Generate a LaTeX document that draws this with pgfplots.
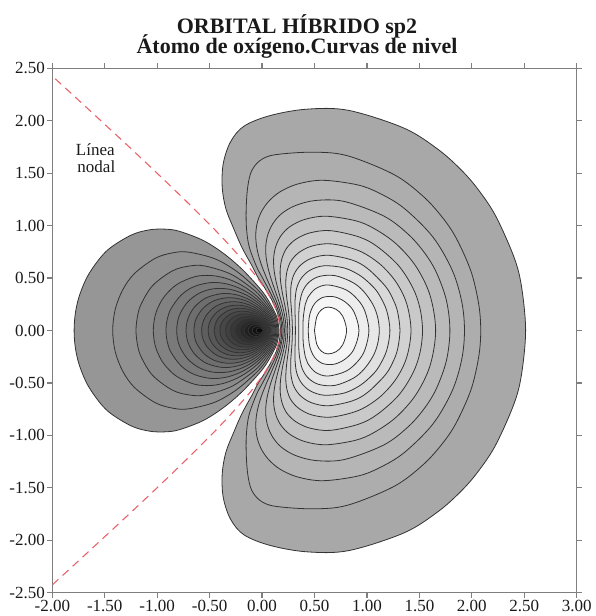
\documentclass[border=0pt]{standalone}
\usepackage{fontspec}
\setmainfont{Liberation Serif}
\usepackage{pgfplots}
\pgfplotsset{compat=1.18}
\definecolor{axgray}{HTML}{7F7F7F}
\definecolor{nodalred}{HTML}{E8646A}
\definecolor{txt}{HTML}{1A1A1A}
\pgfplotsset{rc/.style={smooth, tension=0.55, draw=black!80, line width=0.4pt, mark=none}}
\begin{document}
\begin{tikzpicture}
\useasboundingbox (-26.15pt,-11.65pt) rectangle (271.35pt,296.35pt);
\begin{axis}[
  at={(0,0)}, anchor=south west,
  scale only axis, width=262.2pt, height=262.2pt,
  xmin=-2, xmax=3, ymin=-2.5, ymax=2.5,
  xtick={-2,-1.5,-1,-0.5,0,0.5,1,1.5,2,2.5,3},
  xticklabels={-2.00,-1.50,-1.00,-0.50,0.00,0.50,1.00,1.50,2.00,2.50,3.00},
  ytick={-2.5,-2,-1.5,-1,-0.5,0,0.5,1,1.5,2,2.5},
  yticklabels={-2.50,-2.00,-1.50,-1.00,-0.50,0.00,0.50,1.00,1.50,2.00,2.50},
  tick label style={font=\fontsize{8.5}{10}\selectfont, text=txt},
  xticklabel style={inner sep=1pt},
  yticklabel style={inner sep=1pt},
  axis line style={axgray, line width=0.6pt},
  tick style={axgray, line width=0.6pt},
  major tick length=2.5pt, tick align=outside,
  xtick pos=both, ytick pos=both,
  minor tick num=0,
  clip mode=individual,
]
% ---------- right lobe ----------
\addplot[rc, fill=black!34] coordinates {(0.1775,0) (0.159,0.129) (0.125,0.2237) (0.0909,0.2938) (0.0237,0.4093) (-0.0421,0.5108) (-0.09,0.6058) (-0.19,0.7883) (-0.27,0.9708) (-0.345,1.1614) (-0.38,1.3669) (-0.37,1.5918) (-0.30,1.80) (-0.17,1.95) (0.08,2.05) (0.4253,2.1101) (0.8238,2.0992) (1.3556,1.9287) (1.6832,1.723) (1.903,1.5264) (2.06,1.3446) (2.2253,1.0959) (2.3985,0.7088) (2.4723,0.4286) (2.513,0) (2.4723,-0.4286) (2.3985,-0.7088) (2.2253,-1.0959) (2.06,-1.3446) (1.903,-1.5264) (1.6832,-1.723) (1.3556,-1.9287) (0.8238,-2.0992) (0.4253,-2.1101) (0.08,-2.05) (-0.17,-1.95) (-0.30,-1.80) (-0.37,-1.5918) (-0.38,-1.3669) (-0.345,-1.1614) (-0.27,-0.9708) (-0.19,-0.7883) (-0.09,-0.6058) (-0.0421,-0.5108) (0.0237,-0.4093) (0.0909,-0.2938) (0.125,-0.2237) (0.159,-0.129) (0.1775,0)};
\addplot[rc, fill=black!32] coordinates {(0.1886,0) (0.1785,0.1009) (0.1467,0.2101) (0.1155,0.285) (0.0552,0.4063) (-0.0017,0.5125) (-0.054,0.6126) (-0.125,0.808) (-0.15,1.0) (-0.15,1.2) (-0.135,1.38) (-0.10,1.52) (-0.02,1.62) (0.12,1.675) (0.4806,1.70) (0.8122,1.6666) (1.2587,1.4861) (1.5348,1.2804) (1.72,1.0773) (1.8526,0.8778) (1.9924,0.5632) (2.0654,0.2526) (2.085,0) (2.0654,-0.2526) (1.9924,-0.5632) (1.8526,-0.8778) (1.72,-1.0773) (1.5348,-1.2804) (1.2587,-1.4861) (0.8122,-1.6666) (0.4806,-1.70) (0.12,-1.675) (-0.02,-1.62) (-0.10,-1.52) (-0.135,-1.38) (-0.15,-1.2) (-0.15,-1.0) (-0.125,-0.808) (-0.054,-0.6126) (-0.0017,-0.5125) (0.0552,-0.4063) (0.1155,-0.285) (0.1467,-0.2101) (0.1785,-0.1009) (0.1886,0)};
\addplot[rc, fill=black!29] coordinates {(0.2003,0) (0.1976,0.0547) (0.1683,0.1932) (0.14,0.2738) (0.0867,0.4007) (0.0388,0.511) (-0.002,0.615) (-0.0339,0.7167) (-0.0543,0.8182) (-0.0599,0.9206) (-0.0464,1.024) (-0.0086,1.1275) (0.0607,1.2285) (0.1703,1.3216) (0.3382,1.3963) (0.5778,1.4323) (0.9073,1.3892) (1.1132,1.3119) (1.3515,1.1675) (1.627,0.8938) (1.812,0.5769) (1.9037,0.2756) (1.93,0) (1.9037,-0.2756) (1.812,-0.5769) (1.627,-0.8938) (1.3515,-1.1675) (1.1132,-1.3119) (0.9073,-1.3892) (0.5778,-1.4323) (0.3382,-1.3963) (0.1703,-1.3216) (0.0607,-1.2285) (-0.0086,-1.1275) (-0.0464,-1.024) (-0.0599,-0.9206) (-0.0543,-0.8182) (-0.0339,-0.7167) (-0.002,-0.615) (0.0388,-0.511) (0.0867,-0.4007) (0.14,-0.2738) (0.1683,-0.1932) (0.1976,-0.0547) (0.2003,0)};
\addplot[rc, fill=black!27] coordinates {(0.2134,0) (0.2071,0.0891) (0.1913,0.1705) (0.1661,0.2588) (0.1202,0.392) (0.0818,0.5059) (0.0532,0.6127) (0.037,0.7166) (0.0368,0.8192) (0.0571,0.9207) (0.1037,1.0198) (0.1842,1.1124) (0.3166,1.1908) (0.5125,1.2399) (0.7863,1.2298) (1.1603,1.0915) (1.3934,0.9177) (1.5509,0.7382) (1.6629,0.5519) (1.7577,0.2867) (1.791,0) (1.7577,-0.2867) (1.6629,-0.5519) (1.5509,-0.7382) (1.3934,-0.9177) (1.1603,-1.0915) (0.7863,-1.2298) (0.5125,-1.2399) (0.3166,-1.1908) (0.1842,-1.1124) (0.1037,-1.0198) (0.0571,-0.9207) (0.0368,-0.8192) (0.037,-0.7166) (0.0532,-0.6127) (0.0818,-0.5059) (0.1202,-0.392) (0.1661,-0.2588) (0.1913,-0.1705) (0.2071,-0.0891) (0.2134,0)};
\addplot[rc, fill=black!24] coordinates {(0.2284,0) (0.225,0.0703) (0.2157,0.1383) (0.1937,0.2388) (0.1557,0.3793) (0.1274,0.4964) (0.1117,0.6048) (0.1121,0.7087) (0.1332,0.8091) (0.1808,0.9046) (0.2665,0.9908) (0.4061,1.0585) (0.6082,1.0898) (0.8904,1.0467) (1.0683,0.9722) (1.2757,0.8287) (1.4651,0.6146) (1.6008,0.3378) (1.655,0) (1.6008,-0.3378) (1.4651,-0.6146) (1.2757,-0.8287) (1.0683,-0.9722) (0.8904,-1.0467) (0.6082,-1.0898) (0.4061,-1.0585) (0.2665,-0.9908) (0.1808,-0.9046) (0.1332,-0.8091) (0.1121,-0.7087) (0.1117,-0.6048) (0.1274,-0.4964) (0.1557,-0.3793) (0.1937,-0.2388) (0.2157,-0.1383) (0.225,-0.0703) (0.2284,0)};
\addplot[rc, fill=black!21] coordinates {(0.2456,0) (0.2376,0.1208) (0.2229,0.2119) (0.1931,0.3617) (0.1755,0.4815) (0.1734,0.59) (0.1914,0.6915) (0.235,0.7856) (0.3201,0.8683) (0.4544,0.9302) (0.6502,0.9522) (0.9247,0.8919) (1.0983,0.8001) (1.3005,0.6195) (1.4372,0.4077) (1.5052,0.2137) (1.53,0) (1.5052,-0.2137) (1.4372,-0.4077) (1.3005,-0.6195) (1.0983,-0.8001) (0.9247,-0.8919) (0.6502,-0.9522) (0.4544,-0.9302) (0.3201,-0.8683) (0.235,-0.7856) (0.1914,-0.6915) (0.1734,-0.59) (0.1755,-0.4815) (0.1931,-0.3617) (0.2229,-0.2119) (0.2376,-0.1208) (0.2456,0)};
\addplot[rc, fill=black!18] coordinates {(0.2657,0) (0.2588,0.124) (0.2484,0.2142) (0.2325,0.3377) (0.2261,0.46) (0.2384,0.5669) (0.2761,0.6628) (0.354,0.7452) (0.4778,0.8058) (0.6605,0.8258) (0.9189,0.7624) (1.1189,0.6375) (1.2744,0.4664) (1.3776,0.2605) (1.42,0) (1.3776,-0.2605) (1.2744,-0.4664) (1.1189,-0.6375) (0.9189,-0.7624) (0.6605,-0.8258) (0.4778,-0.8058) (0.354,-0.7452) (0.2761,-0.6628) (0.2384,-0.5669) (0.2261,-0.46) (0.2325,-0.3377) (0.2484,-0.2142) (0.2588,-0.124) (0.2657,0)};
\addplot[rc, fill=black!15] coordinates {(0.29,0) (0.2857,0.1209) (0.2775,0.231) (0.2729,0.3086) (0.2771,0.433) (0.3053,0.5368) (0.3683,0.6241) (0.4734,0.6895) (0.6322,0.7175) (0.8602,0.671) (1.0061,0.5906) (1.1772,0.4207) (1.2534,0.288) (1.293,0.1737) (1.315,0) (1.293,-0.1737) (1.2534,-0.288) (1.1772,-0.4207) (1.0061,-0.5906) (0.8602,-0.671) (0.6322,-0.7175) (0.4734,-0.6895) (0.3683,-0.6241) (0.3053,-0.5368) (0.2771,-0.433) (0.2729,-0.3086) (0.2775,-0.231) (0.2857,-0.1209) (0.29,0)};
\addplot[rc, fill=black!12] coordinates {(0.318,0) (0.3161,0.1126) (0.3133,0.2072) (0.3135,0.2735) (0.3294,0.4006) (0.3752,0.4996) (0.4583,0.575) (0.5892,0.6168) (0.7816,0.5967) (0.9336,0.5244) (1.0528,0.4225) (1.1184,0.3374) (1.1881,0.1905) (1.219,0) (1.1881,-0.1905) (1.1184,-0.3374) (1.0528,-0.4225) (0.9336,-0.5244) (0.7816,-0.5967) (0.5892,-0.6168) (0.4583,-0.575) (0.3752,-0.4996) (0.3294,-0.4006) (0.3135,-0.2735) (0.3133,-0.2072) (0.3161,-0.1126) (0.318,0)};
\addplot[rc, fill=black!9] coordinates {(0.3504,0) (0.3503,0.1275) (0.3545,0.2307) (0.3822,0.3621) (0.4418,0.4549) (0.5423,0.5146) (0.6954,0.5232) (0.8655,0.4577) (0.9696,0.3717) (1.0572,0.2473) (1.101,0.1307) (1.1176,0) (1.101,-0.1307) (1.0572,-0.2473) (0.9696,-0.3717) (0.8655,-0.4577) (0.6954,-0.5232) (0.5423,-0.5146) (0.4418,-0.4549) (0.3822,-0.3621) (0.3545,-0.2307) (0.3503,-0.1275) (0.3504,0)};
\addplot[rc, fill=black!7] coordinates {(0.3896,0) (0.3933,0.1253) (0.4129,0.2528) (0.4358,0.3131) (0.5087,0.3978) (0.6262,0.4345) (0.8006,0.3879) (0.9141,0.292) (0.981,0.1829) (1.019,0) (0.981,-0.1829) (0.9141,-0.292) (0.8006,-0.3879) (0.6262,-0.4345) (0.5087,-0.3978) (0.4358,-0.3131) (0.4129,-0.2528) (0.3933,-0.1253) (0.3896,0)};
\addplot[rc, fill=black!4] coordinates {(0.44,0) (0.4485,0.117) (0.4674,0.1926) (0.5062,0.263) (0.581,0.3161) (0.6875,0.3215) (0.792,0.2725) (0.8755,0.179) (0.924,0) (0.8755,-0.179) (0.792,-0.2725) (0.6875,-0.3215) (0.581,-0.3161) (0.5062,-0.263) (0.4674,-0.1926) (0.4485,-0.117) (0.44,0)};
\addplot[rc, fill=white] coordinates {(0.50,0) (0.5219,0.1321) (0.5675,0.199) (0.6281,0.2234) (0.706,0.2019) (0.7689,0.1367) (0.806,0) (0.7689,-0.1367) (0.706,-0.2019) (0.6281,-0.2234) (0.5675,-0.199) (0.5219,-0.1321) (0.50,0)};
% ---------- left lobe ----------
\addplot[rc, fill=black!41] coordinates {(0.161,0) (0.151,0.087) (0.128,0.1601) (0.0507,0.3033) (-0.028,0.4091) (-0.1911,0.5846) (-0.366,0.7338) (-0.5604,0.8582) (-0.7867,0.9455) (-0.9178,0.966) (-1.0656,0.961) (-1.235,0.9157) (-1.4319,0.7995) (-1.543,0.6926) (-1.6639,0.5173) (-1.742,0.3312) (-1.78,0.166) (-1.792,0) (-1.78,-0.166) (-1.742,-0.3312) (-1.6639,-0.5173) (-1.543,-0.6926) (-1.4319,-0.7995) (-1.235,-0.9157) (-1.0656,-0.961) (-0.9178,-0.966) (-0.7867,-0.9455) (-0.5604,-0.8582) (-0.366,-0.7338) (-0.1911,-0.5846) (-0.028,-0.4091) (0.0507,-0.3033) (0.128,-0.1601) (0.151,-0.087) (0.161,0)};
\addplot[rc, fill=black!43] coordinates {(0.1513,0) (0.1462,0.0596) (0.1332,0.1123) (0.1089,0.1737) (0.0261,0.3064) (-0.0595,0.4057) (-0.2431,0.5649) (-0.4517,0.6844) (-0.7016,0.7472) (-0.8498,0.741) (-1.0197,0.6879) (-1.217,0.5427) (-1.3283,0.3879) (-1.3999,0.2026) (-1.424,0) (-1.3999,-0.2026) (-1.3283,-0.3879) (-1.217,-0.5427) (-1.0197,-0.6879) (-0.8498,-0.741) (-0.7016,-0.7472) (-0.4517,-0.6844) (-0.2431,-0.5649) (-0.0595,-0.4057) (0.0261,-0.3064) (0.1089,-0.1737) (0.1332,-0.1123) (0.1462,-0.0596) (0.1513,0)};
\addplot[rc, fill=black!46] coordinates {(0.1415,0) (0.1365,0.0561) (0.1229,0.1086) (0.0886,0.1849) (0.0001,0.3075) (-0.093,0.3993) (-0.2983,0.5378) (-0.5428,0.6147) (-0.6871,0.6156) (-0.8518,0.5702) (-1.0426,0.4292) (-1.1503,0.2573) (-1.1864,0.1431) (-1.202,0) (-1.1864,-0.1431) (-1.1503,-0.2573) (-1.0426,-0.4292) (-0.8518,-0.5702) (-0.6871,-0.6156) (-0.5428,-0.6147) (-0.2983,-0.5378) (-0.093,-0.3993) (0.0001,-0.3075) (0.0886,-0.1849) (0.1229,-0.1086) (0.1365,-0.0561) (0.1415,0)};
\addplot[rc, fill=black!49] coordinates {(0.1318,0) (0.1268,0.0529) (0.1125,0.1048) (0.0671,0.1937) (-0.0276,0.3063) (-0.1285,0.3893) (-0.2374,0.4542) (-0.3568,0.501) (-0.4895,0.5246) (-0.6392,0.5136) (-0.8109,0.4398) (-0.9269,0.3302) (-0.9894,0.2255) (-1.0237,0.1233) (-1.037,0) (-1.0237,-0.1233) (-0.9894,-0.2255) (-0.9269,-0.3302) (-0.8109,-0.4398) (-0.6392,-0.5136) (-0.4895,-0.5246) (-0.3568,-0.501) (-0.2374,-0.4542) (-0.1285,-0.3893) (-0.0276,-0.3063) (0.0671,-0.1937) (0.1125,-0.1048) (0.1268,-0.0529) (0.1318,0)};
\addplot[rc, fill=black!52] coordinates {(0.1226,0) (0.1186,0.0456) (0.1037,0.0992) (0.0658,0.1724) (-0.0029,0.2562) (-0.1071,0.3424) (-0.2202,0.4053) (-0.345,0.4459) (-0.4846,0.4573) (-0.6432,0.421) (-0.7684,0.3407) (-0.8664,0.211) (-0.9036,0.1089) (-0.916,0) (-0.9036,-0.1089) (-0.8664,-0.211) (-0.7684,-0.3407) (-0.6432,-0.421) (-0.4846,-0.4573) (-0.345,-0.4459) (-0.2202,-0.4053) (-0.1071,-0.3424) (-0.0029,-0.2562) (0.0658,-0.1724) (0.1037,-0.0992) (0.1186,-0.0456) (0.1226,0)};
\addplot[rc, fill=black!54] coordinates {(0.114,0) (0.11,0.0425) (0.0954,0.093) (0.0558,0.165) (-0.0161,0.2455) (-0.1034,0.3113) (-0.197,0.3595) (-0.3255,0.3959) (-0.4699,0.3968) (-0.5998,0.3551) (-0.7075,0.2735) (-0.777,0.17) (-0.805,0.087) (-0.814,0) (-0.805,-0.087) (-0.777,-0.17) (-0.7075,-0.2735) (-0.5998,-0.3551) (-0.4699,-0.3968) (-0.3255,-0.3959) (-0.197,-0.3595) (-0.1034,-0.3113) (-0.0161,-0.2455) (0.0558,-0.165) (0.0954,-0.093) (0.11,-0.0425) (0.114,0)};
\addplot[rc, fill=black!57] coordinates {(0.105,0) (0.1014,0.0389) (0.0873,0.0866) (0.0461,0.1574) (-0.018,0.2248) (-0.1089,0.2876) (-0.2329,0.3374) (-0.3716,0.353) (-0.529,0.3137) (-0.6346,0.2343) (-0.6911,0.1502) (-0.7164,0.0775) (-0.725,0) (-0.7164,-0.0775) (-0.6911,-0.1502) (-0.6346,-0.2343) (-0.529,-0.3137) (-0.3716,-0.353) (-0.2329,-0.3374) (-0.1089,-0.2876) (-0.018,-0.2248) (0.0461,-0.1574) (0.0873,-0.0866) (0.1014,-0.0389) (0.105,0)};
\addplot[rc, fill=black!60] coordinates {(0.0968,0) (0.0935,0.035) (0.0804,0.079) (0.0378,0.149) (-0.0175,0.2042) (-0.1116,0.2644) (-0.2135,0.301) (-0.3252,0.3125) (-0.4487,0.2876) (-0.5507,0.2238) (-0.6164,0.1367) (-0.642,0.07) (-0.649,0) (-0.642,-0.07) (-0.6164,-0.1367) (-0.5507,-0.2238) (-0.4487,-0.2876) (-0.3252,-0.3125) (-0.2135,-0.301) (-0.1116,-0.2644) (-0.0175,-0.2042) (0.0378,-0.149) (0.0804,-0.079) (0.0935,-0.035) (0.0968,0)};
\addplot[rc, fill=black!63] coordinates {(0.0882,0) (0.0852,0.032) (0.073,0.0719) (0.0288,0.1406) (-0.0287,0.1926) (-0.114,0.2409) (-0.2197,0.2705) (-0.336,0.2691) (-0.4482,0.2267) (-0.5354,0.1404) (-0.569,0.062) (-0.576,0) (-0.569,-0.062) (-0.5354,-0.1404) (-0.4482,-0.2267) (-0.336,-0.2691) (-0.2197,-0.2705) (-0.114,-0.2409) (-0.0287,-0.1926) (0.0288,-0.1406) (0.073,-0.0719) (0.0852,-0.032) (0.0882,0)};
\addplot[rc, fill=black!66] coordinates {(0.080,0) (0.0775,0.029) (0.0647,0.0686) (0.0214,0.1315) (-0.0381,0.1805) (-0.1136,0.2182) (-0.2082,0.24) (-0.3113,0.2341) (-0.4075,0.1933) (-0.4763,0.1235) (-0.507,0.055) (-0.513,0) (-0.507,-0.055) (-0.4763,-0.1235) (-0.4075,-0.1933) (-0.3113,-0.2341) (-0.2082,-0.24) (-0.1136,-0.2182) (-0.0381,-0.1805) (0.0214,-0.1315) (0.0647,-0.0686) (0.0775,-0.029) (0.080,0)};
\addplot[rc, fill=black!69] coordinates {(0.0726,0) (0.0703,0.026) (0.0572,0.0644) (0.0149,0.1221) (-0.0464,0.168) (-0.1244,0.2003) (-0.2224,0.2123) (-0.3137,0.1943) (-0.3955,0.142) (-0.4369,0.0835) (-0.456,0) (-0.4369,-0.0835) (-0.3955,-0.142) (-0.3137,-0.1943) (-0.2224,-0.2123) (-0.1244,-0.2003) (-0.0464,-0.168) (0.0149,-0.1221) (0.0572,-0.0644) (0.0703,-0.026) (0.0726,0)};
\addplot[rc, fill=black!72] coordinates {(0.065,0) (0.063,0.0235) (0.0496,0.0601) (0.0085,0.1124) (-0.0546,0.1546) (-0.1351,0.1805) (-0.2216,0.1824) (-0.2989,0.1583) (-0.3647,0.104) (-0.396,0.048) (-0.401,0) (-0.396,-0.048) (-0.3647,-0.104) (-0.2989,-0.1583) (-0.2216,-0.1824) (-0.1351,-0.1805) (-0.0546,-0.1546) (0.0085,-0.1124) (0.0496,-0.0601) (0.063,-0.0235) (0.065,0)};
\addplot[rc, fill=black!75] coordinates {(0.057,0) (0.0552,0.0208) (0.0417,0.0559) (0.0019,0.1025) (-0.0631,0.1402) (-0.1318,0.157) (-0.2049,0.1539) (-0.2669,0.1309) (-0.3156,0.0892) (-0.343,0.041) (-0.347,0) (-0.343,-0.041) (-0.3156,-0.0892) (-0.2669,-0.1309) (-0.2049,-0.1539) (-0.1318,-0.157) (-0.0631,-0.1402) (0.0019,-0.1025) (0.0417,-0.0559) (0.0552,-0.0208) (0.057,0)};
\addplot[rc, fill=black!78] coordinates {(0.0496,0) (0.048,0.018) (0.0349,0.0506) (-0.0033,0.0922) (-0.0699,0.1253) (-0.1406,0.1348) (-0.2158,0.1181) (-0.2731,0.0737) (-0.2955,0.035) (-0.299,0) (-0.2955,-0.035) (-0.2731,-0.0737) (-0.2158,-0.1181) (-0.1406,-0.1348) (-0.0699,-0.1253) (-0.0033,-0.0922) (0.0349,-0.0506) (0.048,-0.018) (0.0496,0)};
\addplot[rc, fill=black!81] coordinates {(0.0422,0) (0.0409,0.0155) (0.0282,0.0452) (-0.0083,0.0816) (-0.0626,0.1059) (-0.1195,0.1123) (-0.1794,0.0992) (-0.2264,0.0658) (-0.249,0.03) (-0.252,0) (-0.249,-0.03) (-0.2264,-0.0658) (-0.1794,-0.0992) (-0.1195,-0.1123) (-0.0626,-0.1059) (-0.0083,-0.0816) (0.0282,-0.0452) (0.0409,-0.0155) (0.0422,0)};
\addplot[rc, fill=black!84] coordinates {(0.0354,0) (0.0343,0.013) (0.0234,0.0386) (-0.0112,0.0709) (-0.0524,0.0881) (-0.1099,0.0923) (-0.1548,0.08) (-0.1889,0.055) (-0.2085,0.025) (-0.211,0) (-0.2085,-0.025) (-0.1889,-0.055) (-0.1548,-0.08) (-0.1099,-0.0923) (-0.0524,-0.0881) (-0.0112,-0.0709) (0.0234,-0.0386) (0.0343,-0.013) (0.0354,0)};
\addplot[rc, fill=black!87] coordinates {(0.0288,0) (0.028,0.0107) (0.0183,0.032) (-0.0143,0.0598) (-0.0563,0.0731) (-0.1,0.0716) (-0.1453,0.0502) (-0.168,0.02) (-0.17,0) (-0.168,-0.02) (-0.1453,-0.0502) (-0.1,-0.0716) (-0.0563,-0.0731) (-0.0143,-0.0598) (0.0183,-0.032) (0.028,-0.0107) (0.0288,0)};
\addplot[rc, fill=black!90] coordinates {(0.0223,0) (0.0217,0.0083) (0.0142,0.0248) (-0.0111,0.0463) (-0.0436,0.0566) (-0.0774,0.0554) (-0.1125,0.0389) (-0.13,0.0155) (-0.1316,0) (-0.13,-0.0155) (-0.1125,-0.0389) (-0.0774,-0.0554) (-0.0436,-0.0566) (-0.0111,-0.0463) (0.0142,-0.0248) (0.0217,-0.0083) (0.0223,0)};
\addplot[rc, fill=black!93] coordinates {(0.0159,0) (0.0155,0.0059) (0.0101,0.0177) (-0.0079,0.0331) (-0.0311,0.0404) (-0.0553,0.0396) (-0.0804,0.0278) (-0.093,0.011) (-0.094,0) (-0.093,-0.011) (-0.0804,-0.0278) (-0.0553,-0.0396) (-0.0311,-0.0404) (-0.0079,-0.0331) (0.0101,-0.0177) (0.0155,-0.0059) (0.0159,0)};
\addplot[rc, fill=black!96] coordinates {(0.0096,0) (0.0061,0.0106) (-0.0047,0.0199) (-0.0187,0.0243) (-0.0332,0.0238) (-0.0482,0.0167) (-0.0564,0) (-0.0482,-0.0167) (-0.0332,-0.0238) (-0.0187,-0.0243) (-0.0047,-0.0199) (0.0061,-0.0106) (0.0096,0)};
% ---------- nodal line ----------
\addplot[smooth, nodalred, line width=0.55pt, dash pattern=on 4pt off 2.8pt, mark=none] coordinates {(-1.972,2.40) (-1.808,2.25) (-1.537,2.0) (-1.267,1.75) (-1.001,1.5) (-0.741,1.25) (-0.489,1.0) (-0.299,0.8) (-0.123,0.6) (-0.045,0.5) (0.026,0.4) (0.085,0.3) (0.131,0.2) (0.160,0.1) (0.17,0) (0.160,-0.1) (0.131,-0.2) (0.085,-0.3) (0.026,-0.4) (-0.045,-0.5) (-0.123,-0.6) (-0.299,-0.8) (-0.489,-1.0) (-0.741,-1.25) (-1.001,-1.5) (-1.267,-1.75) (-1.537,-2.0) (-1.808,-2.25) (-2.005,-2.43)};
% ---------- texts ----------
\node[font=\fontsize{8.5}{10}\selectfont, text=txt] at (axis cs:-1.59,1.72) {Línea};
\node[font=\fontsize{8.5}{10}\selectfont, text=txt] at (axis cs:-1.58,1.56) {nodal};
\node[font=\bfseries\fontsize{11}{13}\selectfont, anchor=base, text=txt] at (axis cs:0.333,2.83) {ORBITAL HÍBRIDO sp2};
\node[font=\bfseries\fontsize{11}{13}\selectfont, anchor=base, text=txt] at (axis cs:0.333,2.64) {Átomo de oxígeno.Curvas de nivel};
\end{axis}
\end{tikzpicture}
\end{document}
